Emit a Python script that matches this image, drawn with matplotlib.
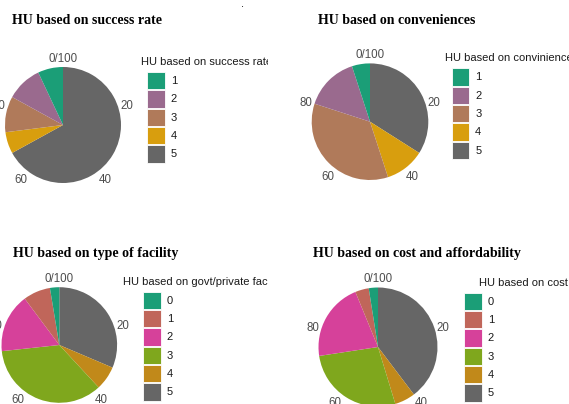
import matplotlib
matplotlib.use("Agg")
import matplotlib.pyplot as plt
import numpy as np
from matplotlib.patches import Rectangle
from matplotlib.transforms import Bbox, TransformedBbox

# shares (percent, levels in legend order)
success_levels = ["1", "2", "3", "4", "5"]
success_vals = [7, 10, 10, 6, 67]

conv_levels = ["1", "2", "3", "4", "5"]
conv_vals = [5, 15, 35, 11, 34]

facility_levels = ["0", "1", "2", "3", "4", "5"]
facility_vals = [2.6, 7.6, 16.5, 35.2, 6.7, 31.4]

cost_levels = ["0", "1", "2", "3", "4", "5"]
cost_vals = [2.5, 3.7, 21.2, 27.3, 5.6, 39.7]

tick_vals = [0, 20, 40, 60, 80]
tick_text = ["0/100", "20", "40", "60", "80"]

cols5 = ["#1b9e77", "#9a6a8e", "#b07a5a", "#d89e0e", "#666666"]
cols6 = ["#1b9e77", "#c0665a", "#d6419a", "#7fa71d", "#c1891a", "#666666"]

W, H = 569, 404
plt.rcParams['font.family'] = ['Liberation Sans', 'DejaVu Sans']
fig = plt.figure(figsize=(W / 100, H / 100), dpi=100)

bg = fig.add_axes([0, 0, 1, 1])
bg.set_xlim(0, W)
bg.set_ylim(H, 0)
bg.axis("off")
bg.set_zorder(0)


def pie(cx, cy, r, vals, cols):
    lim = 1.35
    s = 2 * r * lim
    ax = fig.add_axes([(cx - s / 2) / W, (H - cy - s / 2) / H, s / W, s / H])
    ax.pie(vals[::-1], colors=cols[::-1], startangle=90, counterclock=False,
           radius=1, wedgeprops=dict(linewidth=0))
    ax.set_xlim(-lim, lim)
    ax.set_ylim(-lim, lim)
    ax.set_aspect("equal")
    ax.axis("off")
    for v, t in zip(tick_vals, tick_text):
        a = np.deg2rad(v / 100 * 360)
        sx, cy_ = np.sin(a), np.cos(a)
        ha = "left" if sx > 0.1 else ("right" if sx < -0.1 else "center")
        va = "bottom" if cy_ > 0.5 else ("top" if cy_ < -0.5 else "center")
        rr = 1.04
        ax.text(rr * sx, rr * cy_, t, ha=ha, va=va, fontsize=8.3,
                color="#4d4d4d", clip_on=False)


def legend(x, y, tx, title, levels, cols, clip_x=None):
    t = bg.text(tx, y - 10, title, fontsize=8, va="center", ha="left",
                color="#1a1a1a")
    if clip_x is not None:
        t.set_clip_box(TransformedBbox(Bbox([[0, 0], [clip_x, H]]), bg.transData))
        t.set_clip_on(True)
    for i, (lv, c) in enumerate(zip(levels, cols)):
        top = y + i * 18.3
        bg.add_patch(Rectangle((x, top), 17.3, 17.3, facecolor=c, edgecolor="white",
                               linewidth=0.6))
        bg.text(x + 23.5, top + 9, lv, fontsize=8, va="center", ha="left",
                color="#1a1a1a")


def title(x, y, s):
    bg.text(x, y, s, fontsize=10, fontweight="bold", family="Liberation Serif",
            va="center", ha="left", color="black")


title(11.7, 20, "HU based on success rate")
title(318.3, 20, "HU based on conveniences")
title(12.7, 254, "HU based on type of facility")
title(313.3, 254, "HU based on cost and affordability")

pie(63, 125, 58, success_vals, cols5)
pie(370, 121.7, 58.3, conv_vals, cols5)
pie(59.3, 345, 57.8, facility_vals, cols6)
pie(378, 347, 59.5, cost_vals, cols6)

legend(147.3, 72, 141.3, "HU based on success rate", success_levels, cols5, clip_x=268)
legend(451.7, 68.3, 445.5, "HU based on conviniences", conv_levels, cols5)
legend(143.3, 291.7, 123.3, "HU based on govt/private fac", facility_levels, cols6)
legend(464.3, 292.7, 479, "HU based on cost", cost_levels, cols6)

bg.text(243, 7, ".", fontsize=8, ha="center", va="baseline", color="black")

fig.savefig("out.png", dpi=100)
